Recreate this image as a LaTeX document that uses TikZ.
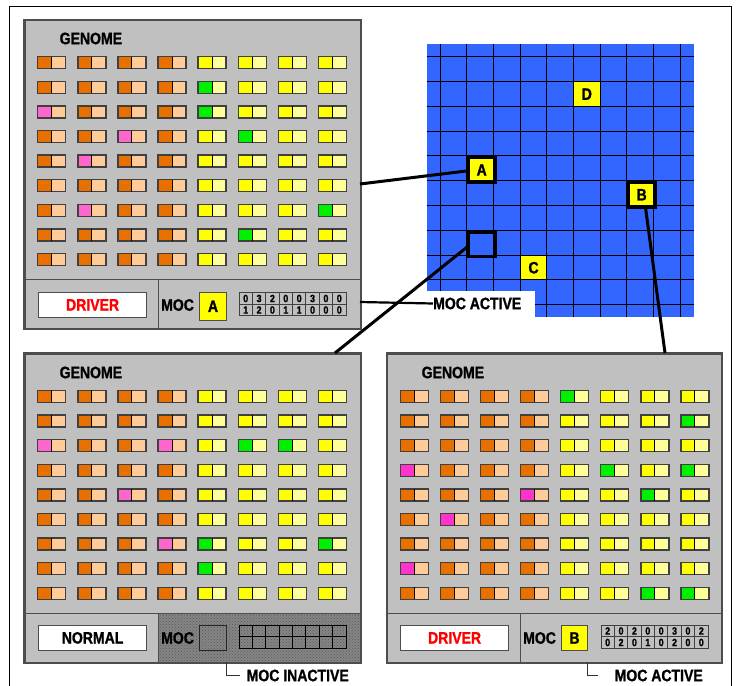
\documentclass[tikz,border=0pt]{standalone}
\usepackage{fontspec}
\setmainfont{Liberation Sans}[FakeStretch=0.85, BoldFeatures={FakeBold=1.2}]
\usetikzlibrary{patterns}
\definecolor{panelgray}{HTML}{C0C0C0}
\definecolor{oranged}{HTML}{E87000}
\definecolor{orangel}{HTML}{FFCC99}
\definecolor{yel}{HTML}{FFFF00}
\definecolor{yell}{HTML}{FFFF99}
\definecolor{grn}{HTML}{00F000}
\definecolor{pnk}{HTML}{FF66CC}
\definecolor{mag}{HTML}{FF33CC}
\definecolor{gridblue}{HTML}{3366FF}
\definecolor{edge}{HTML}{4D4D4D}
\newcommand\lblfont{\fontsize{16.5}{18}\selectfont\bfseries}
\newcommand\digfont{\fontsize{10.5}{11}\selectfont\bfseries}
\tikzset{
  panelbox/.style={draw=edge, line width=1.6pt, fill=panelgray, inner sep=0pt},
  panelrim/.style={draw=edge, line width=1.6pt},
  genebox/.style={draw=black!75, line width=1.4pt},
  genemid/.style={draw=black, line width=0.9pt},
  divline/.style={draw=edge, line width=1pt},
  labelbox/.style={draw=edge, line width=1.2pt, fill=white, minimum width=108pt, minimum height=24.5pt, inner sep=0pt, font=\lblfont},
  yelbox/.style={draw=edge, line width=1pt, fill=yel, minimum width=27pt, minimum height=26pt, inner sep=0pt, font=\lblfont},
  txt/.style={font=\lblfont, inner sep=0pt},
  digit/.style={font=\digfont, inner sep=0pt},
  tabline/.style={draw=black!75, line width=0.8pt},
  gline/.style={draw=black, line width=1pt},
  cellyel/.style={fill=yel, minimum width=26.67pt, minimum height=24.8pt, inner sep=0pt, font=\lblfont},
  cellthick/.style={draw=black, line width=3.3pt, minimum width=26.67pt, minimum height=24.8pt, inner sep=0pt, font=\lblfont},
  conn/.style={draw=black, line width=3pt},
  connthin/.style={draw=black, line width=2.2pt},
  bracket/.style={draw=black!80, line width=1pt},
}
\newcommand\genepair[4]{%
  \fill[#3] (#1,#2) rectangle ++(14,12);
  \fill[#4] (#1+14,#2) rectangle ++(14,12);
  \draw[genebox] (#1,#2) rectangle ++(28,12);
  \draw[genemid] (#1+14,#2) -- ++(0,12);}
\newcommand\genome[2]{%
  \foreach \c in {0,...,7}{%
    \foreach \r in {0,...,8}{%
      \pgfmathsetmacro\gx{#1+13.7+40.1*\c}%
      \pgfmathsetmacro\gy{#2+37.4+24.6*\r}%
      \ifnum\c<4 \genepair{\gx}{\gy}{oranged}{orangel}\else\genepair{\gx}{\gy}{yel}{yell}\fi
    }}}
\newcommand\genemark[5]{%
  \pgfmathsetmacro\gx{#1+13.7+40.1*(#3-1)}%
  \pgfmathsetmacro\gy{#2+37.4+24.6*(#4-1)}%
  \fill[#5] (\gx,\gy) rectangle ++(14,12);
  \draw[genebox] (\gx,\gy) rectangle ++(28,12);
  \draw[genemid] (\gx+14,\gy) -- ++(0,12);}
\newcommand\moctable[4]{%
  \foreach \d [count=\i from 0] in {#3} {\node[digit] (tt\i) at (#1+6.69+13.375*\i, #2+6) {\d};}
  \foreach \d [count=\i from 0] in {#4} {\node[digit] (tb\i) at (#1+6.69+13.375*\i, #2+17.5) {\d};}
  \draw[tabline] (#1,#2) rectangle ++(107,23);
  \foreach \i in {1,...,7} {\draw[tabline] (#1+13.375*\i,#2) -- ++(0,23);}
  \draw[tabline] (#1,#2+11.5) -- ++(107,0);}
\begin{document}
\begin{tikzpicture}[x=1pt,y=-1pt]
\useasboundingbox (0,0) rectangle (737,686);
\clip (0,0) rectangle (737,686);
\fill[white] (0,0) rectangle (737,686);
% outer frame
\draw[black, line width=1pt] (9.5,700) -- (9.5,6) -- (731,6) -- (731,700);

% ================= blue world grid =================
\fill[gridblue] (426.7,44.3) rectangle (694,317);
\node[cellyel, anchor=north west] (cellD) at (573.3,81.5) {D};
\node[cellyel, anchor=north west] (cellC) at (520,255.1) {C};
\fill[yel] (466.7,155.9) rectangle ++(26.67,24.8);
\fill[yel] (626.7,180.7) rectangle ++(26.67,24.8);
\foreach \k in {0,...,9} {\draw[gline] (440+26.667*\k,44.3) -- (440+26.667*\k,317);}
\foreach \k in {0,...,10} {\draw[gline] (426.7,56.7+24.8*\k) -- (694,56.7+24.8*\k);}
\node[cellthick, anchor=north west] (cellA) at (466.7,155.9) {A};
\node[cellthick, anchor=north west] (cellB) at (626.7,180.7) {B};
\node[cellthick, anchor=north west] (cellE) at (466.7,230.3) {};
\fill[white] (426,291) rectangle (534.5,320);
\node[txt, anchor=west] (mocact) at (433,303.5) {MOC ACTIVE};

% ================= panel A (top left) =================
\node[panelbox, minimum width=336pt, minimum height=308.5pt, anchor=north west] (pA) at (24,19.3) {};
\node[txt, anchor=west] (genA) at (59.5,38.5) {GENOME};
\genome{24}{19.3}
\genemark{24}{19.3}{1}{3}{pnk}
\genemark{24}{19.3}{3}{4}{pnk}
\genemark{24}{19.3}{2}{5}{pnk}
\genemark{24}{19.3}{2}{7}{pnk}
\genemark{24}{19.3}{5}{2}{grn}
\genemark{24}{19.3}{5}{3}{grn}
\genemark{24}{19.3}{6}{4}{grn}
\genemark{24}{19.3}{8}{7}{grn}
\genemark{24}{19.3}{6}{8}{grn}
\draw[divline] (24,279.3) -- (360,279.3);
\draw[divline] (158,279.3) -- (158,327.8);
\node[labelbox, anchor=north west] (drvA) at (38,292) {\textcolor{red}{DRIVER}};
\node[txt, anchor=west] (mocA) at (161,305) {MOC};
\node[yelbox, anchor=north west, minimum height=27.5pt] (yA) at (199,292) {A};
\moctable{239}{292.5}{0,3,2,0,0,3,0,0}{1,2,0,1,1,0,0,0}
\draw[panelrim] (pA.north west) rectangle (pA.south east);

% ================= panel bottom left =================
\node[panelbox, minimum width=336pt, minimum height=309pt, anchor=north west] (pN) at (24,353) {};
\node[txt, anchor=west] (genN) at (59.5,372.5) {GENOME};
\genome{24}{353}
\genemark{24}{353}{1}{3}{pnk}
\genemark{24}{353}{4}{3}{pnk}
\genemark{24}{353}{3}{5}{pnk}
\genemark{24}{353}{4}{7}{pnk}
\genemark{24}{353}{6}{3}{grn}
\genemark{24}{353}{7}{3}{grn}
\genemark{24}{353}{5}{7}{grn}
\genemark{24}{353}{8}{7}{grn}
\genemark{24}{353}{5}{8}{grn}
\fill[black!48] (158,613) rectangle (360,662);
\fill[pattern=crosshatch dots, pattern color=black!65] (158,613) rectangle (360,662);
\draw[divline] (24,613) -- (360,613);
\draw[divline] (158,613) -- (158,662);
\node[labelbox, anchor=north west] (nrmN) at (38,625) {NORMAL};
\node[txt, anchor=west] (mocN) at (161,638) {MOC};
\node[draw=black!85, line width=0.9pt, minimum width=27pt, minimum height=25pt, inner sep=0pt, anchor=north west] (yN) at (199,625) {};
\draw[gline, line width=0.9pt] (239,625) rectangle ++(107,23);
\foreach \i in {1,...,7} {\draw[gline, line width=0.9pt] (239+13.375*\i,625) -- ++(0,23);}
\draw[gline, line width=0.9pt] (239,636.5) -- ++(107,0);
\draw[panelrim] (pN.north west) rectangle (pN.south east);
\coordinate (brN) at (226,662);
\node[txt, anchor=west] (inactN) at (246.5,675.5) {MOC INACTIVE};
\draw[bracket] (brN) -- (226,675) -- (240,675);

% ================= panel bottom right =================
\node[panelbox, minimum width=334.5pt, minimum height=309pt, anchor=north west] (pB) at (386.5,353) {};
\node[txt, anchor=west] (genB) at (421.5,372.5) {GENOME};
\genome{386.5}{353}
\genemark{386.5}{353}{1}{4}{mag}
\genemark{386.5}{353}{4}{5}{mag}
\genemark{386.5}{353}{2}{6}{mag}
\genemark{386.5}{353}{1}{8}{mag}
\genemark{386.5}{353}{5}{1}{grn}
\genemark{386.5}{353}{8}{2}{grn}
\genemark{386.5}{353}{6}{4}{grn}
\genemark{386.5}{353}{8}{4}{grn}
\genemark{386.5}{353}{7}{5}{grn}
\genemark{386.5}{353}{7}{9}{grn}
\genemark{386.5}{353}{8}{9}{grn}
\draw[divline] (386.5,613) -- (721,613);
\draw[divline] (520.7,613) -- (520.7,662);
\node[labelbox, anchor=north west] (drvB) at (400,625) {\textcolor{red}{DRIVER}};
\node[txt, anchor=west] (mocB) at (523,638) {MOC};
\node[yelbox, anchor=north west, minimum width=26pt, minimum height=25pt] (yB) at (561,625) {B};
\moctable{601}{625}{2,0,2,0,0,3,0,2}{0,2,0,1,0,2,0,0}
\draw[panelrim] (pB.north west) rectangle (pB.south east);
\coordinate (brB) at (587,662);
\node[txt, anchor=west] (actB) at (614.5,675.5) {MOC ACTIVE};
\draw[bracket] (brB) -- (587,675) -- (598,675);

% ================= connectors =================
\coordinate (aout) at (360,184);
\coordinate (mout) at (360,302);
\coordinate (eout) at (335,353);
\coordinate (bout) at (665,353);
\draw[conn] (aout) -- ([yshift=-1pt]cellA.west);
\draw[connthin] (mout) -- (mocact.west);
\draw[conn] (eout) -- ([yshift=-3pt]cellE.west);
\draw[conn] ([xshift=4pt]cellB.south) -- (bout);
\end{tikzpicture}
\end{document}
